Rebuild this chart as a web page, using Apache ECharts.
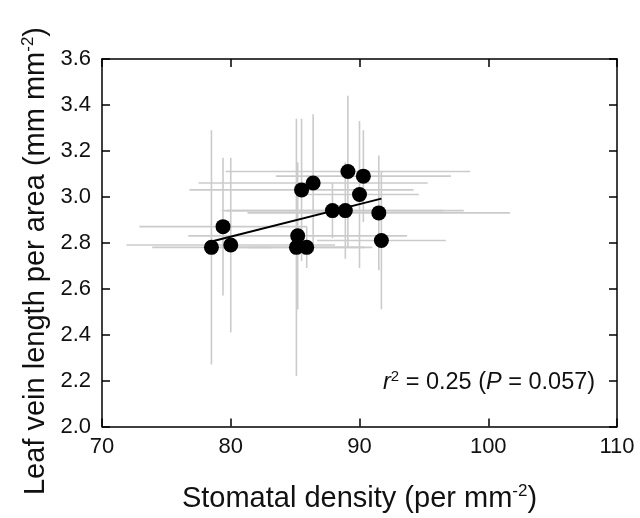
<!DOCTYPE html>
<html><head><meta charset="utf-8">
<script src="https://cdn.jsdelivr.net/npm/echarts@6/dist/echarts.min.js"></script>
<style>html,body{margin:0;padding:0;background:#fff}#c{width:640px;height:518px}</style>
</head><body><div id="c"></div>
<script>
// Stomatal density (per mm^-2) and its error (half-length of horizontal bar)
const stomatalDensity = [78.5, 79.4, 80.0, 85.2, 85.1, 85.9, 85.5, 86.4, 87.9, 88.9, 89.1, 90.3, 90.0, 91.5, 91.7];
const densityErr      = [4.6,  6.5,  8.1,  8.5,  5.9,  4.5,  8.7,  8.9,  8.6,  9.2,  9.5,  6.8,  4.6,  10.2, 5.0];
// Leaf vein length per area (mm mm^-2) and its error (half-length of vertical bar)
const veinLength      = [2.78, 2.87, 2.79, 2.83, 2.78, 2.78, 3.03, 3.06, 2.94, 2.94, 3.11, 3.09, 3.01, 2.93, 2.81];
const veinErr         = [0.51, 0.30, 0.38, 0.32, 0.56, 0.09, 0.31, 0.30, 0.12, 0.21, 0.33, 0.20, 0.32, 0.25, 0.30];
const xTicks = [70, 80, 90, 100, 110];
const yTicks = ['2.0','2.2','2.4','2.6','2.8','3.0','3.2','3.4','3.6'];
const annotation = { r2: '0.25', p: '0.057' };

// least-squares regression line over the data range
const n = stomatalDensity.length;
const mx = stomatalDensity.reduce((a, b) => a + b, 0) / n;
const my = veinLength.reduce((a, b) => a + b, 0) / n;
let sxy = 0, sxx = 0;
for (let i = 0; i < n; i++) { sxy += (stomatalDensity[i] - mx) * (veinLength[i] - my); sxx += (stomatalDensity[i] - mx) ** 2; }
const slope = sxy / sxx, icpt = my - slope * mx;
const xMin = Math.min(...stomatalDensity), xMax = Math.max(...stomatalDensity);
const fitLine = [[xMin, icpt + slope * xMin], [xMax, icpt + slope * xMax]];

const pts = stomatalDensity.map((x, i) => [x, veinLength[i], densityErr[i], veinErr[i]]);

const FONT = 'Liberation Sans, Arial, sans-serif';
const chart = echarts.init(document.getElementById('c'), null, { renderer: 'canvas' });
const axisLine = { show: true, lineStyle: { color: '#000', width: 1.5 } };
const tick = { show: true, inside: true, length: 8, lineStyle: { color: '#000', width: 1.5 } };

chart.setOption({
  backgroundColor: '#fff',
  animation: false,
  grid: { left: 102, top: 59, width: 515, height: 372, containLabel: false, show: false },
  xAxis: [{
    type: 'value', min: xTicks[0], max: xTicks[xTicks.length - 1], interval: 10, position: 'bottom',
    axisLine, axisTick: tick, splitLine: { show: false },
    axisLabel: { color: '#111', fontSize: 22, fontFamily: FONT, margin: 9 },
    name: 'Stomatal density (per mm{sup|-2})', nameLocation: 'middle', nameGap: 56,
    nameTextStyle: { color: '#111', fontSize: 29, fontFamily: FONT,
      rich: { sup: { fontSize: 17, fontFamily: FONT, color: '#111', padding: [0, 0, 15, 0] } } }
  }, {
    type: 'value', min: xTicks[0], max: xTicks[xTicks.length - 1], interval: 10, position: 'top',
    axisLine, axisTick: tick, axisLabel: { show: false }, splitLine: { show: false }
  }],
  yAxis: [{
    type: 'value', min: 2.0, max: 3.6, interval: 0.2, position: 'left',
    axisLine, axisTick: tick, splitLine: { show: false },
    axisLabel: { color: '#111', fontSize: 22, fontFamily: FONT, margin: 11, formatter: v => v.toFixed(1) }
  }, {
    type: 'value', min: 2.0, max: 3.6, interval: 0.2, position: 'right',
    axisLine, axisTick: tick, axisLabel: { show: false }, splitLine: { show: false }
  }],
  series: [{
    type: 'custom', data: pts, z: 2, silent: true,
    encode: { x: 0, y: 1 },
    renderItem: function (params, api) {
      const x = api.value(0), y = api.value(1), ex = api.value(2), ey = api.value(3);
      const l = api.coord([x - ex, y]), r = api.coord([x + ex, y]);
      const t = api.coord([x, y + ey]), b = api.coord([x, y - ey]);
      const style = { stroke: '#cbcbcb', lineWidth: 1.6 };
      return { type: 'group', children: [
        { type: 'line', shape: { x1: l[0], y1: l[1], x2: r[0], y2: r[1] }, style },
        { type: 'line', shape: { x1: t[0], y1: t[1], x2: b[0], y2: b[1] }, style }
      ] };
    }
  }, {
    type: 'line', data: fitLine, z: 3, symbol: 'none', silent: true,
    lineStyle: { color: '#000', width: 2 }
  }, {
    type: 'scatter', data: pts.map(p => [p[0], p[1]]), z: 4, silent: true,
    symbol: 'circle', symbolSize: 15, itemStyle: { color: '#000', opacity: 1 }
  }],
  graphic: [{
    type: 'text', x: 36, y: 261, rotation: Math.PI / 2, z: 10,
    style: {
      text: 'Leaf vein length per area (mm mm{sup|-2})',
      fontFamily: FONT, fontSize: 29, fill: '#111', align: 'center', verticalAlign: 'middle',
      rich: { sup: { fontSize: 17, fontFamily: FONT, fill: '#111', padding: [0, 0, 15, 0] } }
    }
  }, {
    type: 'text', left: 383, top: 369, z: 10,
    style: {
      text: '{i|r}{sup|2}{n| = ' + annotation.r2 + ' (}{i|P}{n| = ' + annotation.p + ')}',
      fontFamily: FONT, fontSize: 23.5, fill: '#111',
      rich: {
        i: { fontStyle: 'italic', fontSize: 23.5, fontFamily: FONT, fill: '#111' },
        n: { fontSize: 23.5, fontFamily: FONT, fill: '#111' },
        sup: { fontSize: 15, fontFamily: FONT, fill: '#111', padding: [0, 0, 12, 0] }
      }
    }
  }]
});
</script>
</body></html>
